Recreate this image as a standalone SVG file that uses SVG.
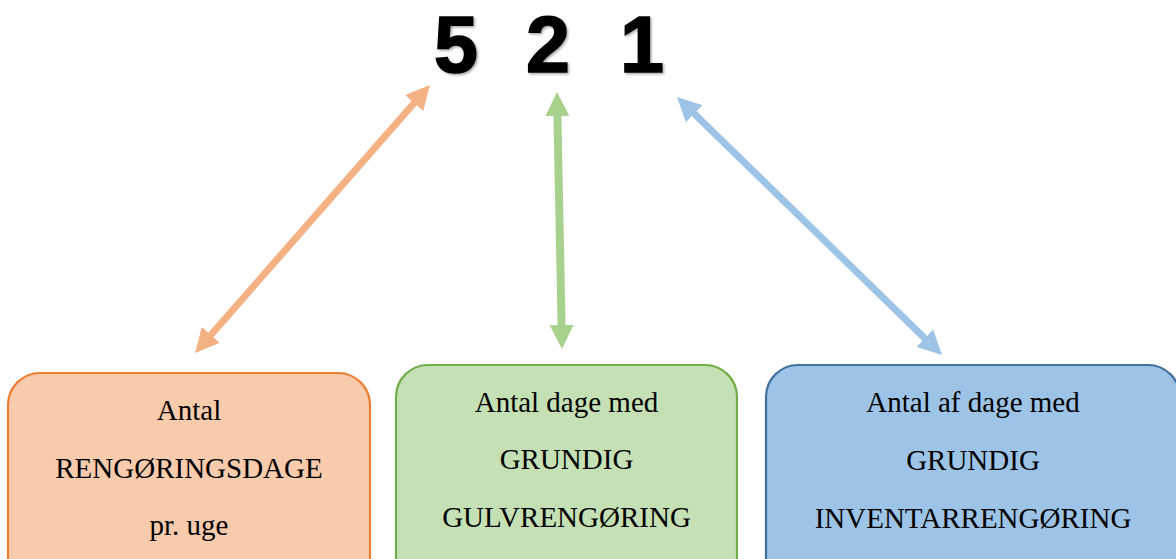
<svg xmlns="http://www.w3.org/2000/svg" width="1176" height="559" viewBox="0 0 1176 559">
<style>
.num{font-family:"Liberation Sans",Arial,sans-serif;font-weight:bold;font-size:79px;fill:#000;stroke:#000;stroke-width:1.6;text-anchor:middle}
.lbl{font-family:"Liberation Serif","Times New Roman",serif;font-size:29px;fill:#000;text-anchor:middle}
.box{stroke-width:2.2}
</style>
<defs>
<filter id="sh" x="-20%" y="-20%" width="140%" height="140%">
<feDropShadow dx="1.5" dy="1.5" stdDeviation="1" flood-color="#000" flood-opacity="0.35"/>
</filter>
<marker id="mo" markerUnits="userSpaceOnUse" markerWidth="24" markerHeight="24" refX="1" refY="12" orient="auto-start-reverse"><path d="M0,0 L24,12 L0,24 z" fill="#F4B183"/></marker>
<marker id="mg" markerUnits="userSpaceOnUse" markerWidth="24" markerHeight="24" refX="1" refY="12" orient="auto-start-reverse"><path d="M0,0 L24,12 L0,24 z" fill="#A9D18E"/></marker>
<marker id="mb" markerUnits="userSpaceOnUse" markerWidth="24" markerHeight="24" refX="1" refY="12" orient="auto-start-reverse"><path d="M0,0 L24,12 L0,24 z" fill="#9DC3E6"/></marker>
</defs>
<rect width="1176" height="559" fill="#fff"/>
<g id="numbers" filter="url(#sh)">
<text class="num" x="456" y="71.5">5</text>
<text class="num" x="548" y="71.5">2</text>
<text class="num" x="642" y="71.5">1</text>
</g>
<g id="connectors" fill="none">
<line x1="414.8" y1="102.3" x2="210.2" y2="335.7" stroke="#F4B183" stroke-width="7" marker-start="url(#mo)" marker-end="url(#mo)"/>
<line x1="557.4" y1="115" x2="561.6" y2="326" stroke="#A9D18E" stroke-width="8" marker-start="url(#mg)" marker-end="url(#mg)"/>
<line x1="693.5" y1="113" x2="925.5" y2="339" stroke="#9DC3E6" stroke-width="7" marker-start="url(#mb)" marker-end="url(#mb)"/>
</g>
<g id="node-rengoringsdage">
<rect class="box" x="8" y="373" width="362" height="230" rx="32" fill="#F8CBAD" stroke="#ED7D31"/>
<text class="lbl" x="189" y="420">Antal</text>
<text class="lbl" x="189" y="478">RENGØRINGSDAGE</text>
<text class="lbl" x="189" y="535">pr. uge</text>
</g>
<g id="node-gulv">
<rect class="box" x="396" y="365" width="341" height="240" rx="32" fill="#C5E0B4" stroke="#70AD47"/>
<text class="lbl" x="566.5" y="412">Antal dage med</text>
<text class="lbl" x="566.5" y="469">GRUNDIG</text>
<text class="lbl" x="566.5" y="527">GULVRENGØRING</text>
</g>
<g id="node-inventar">
<rect class="box" x="766" y="365" width="414" height="240" rx="32" fill="#9DC3E6" stroke="#41719C"/>
<text class="lbl" x="973" y="412">Antal af dage med</text>
<text class="lbl" x="973" y="470">GRUNDIG</text>
<text class="lbl" x="973" y="528">INVENTARRENGØRING</text>
</g>
</svg>
